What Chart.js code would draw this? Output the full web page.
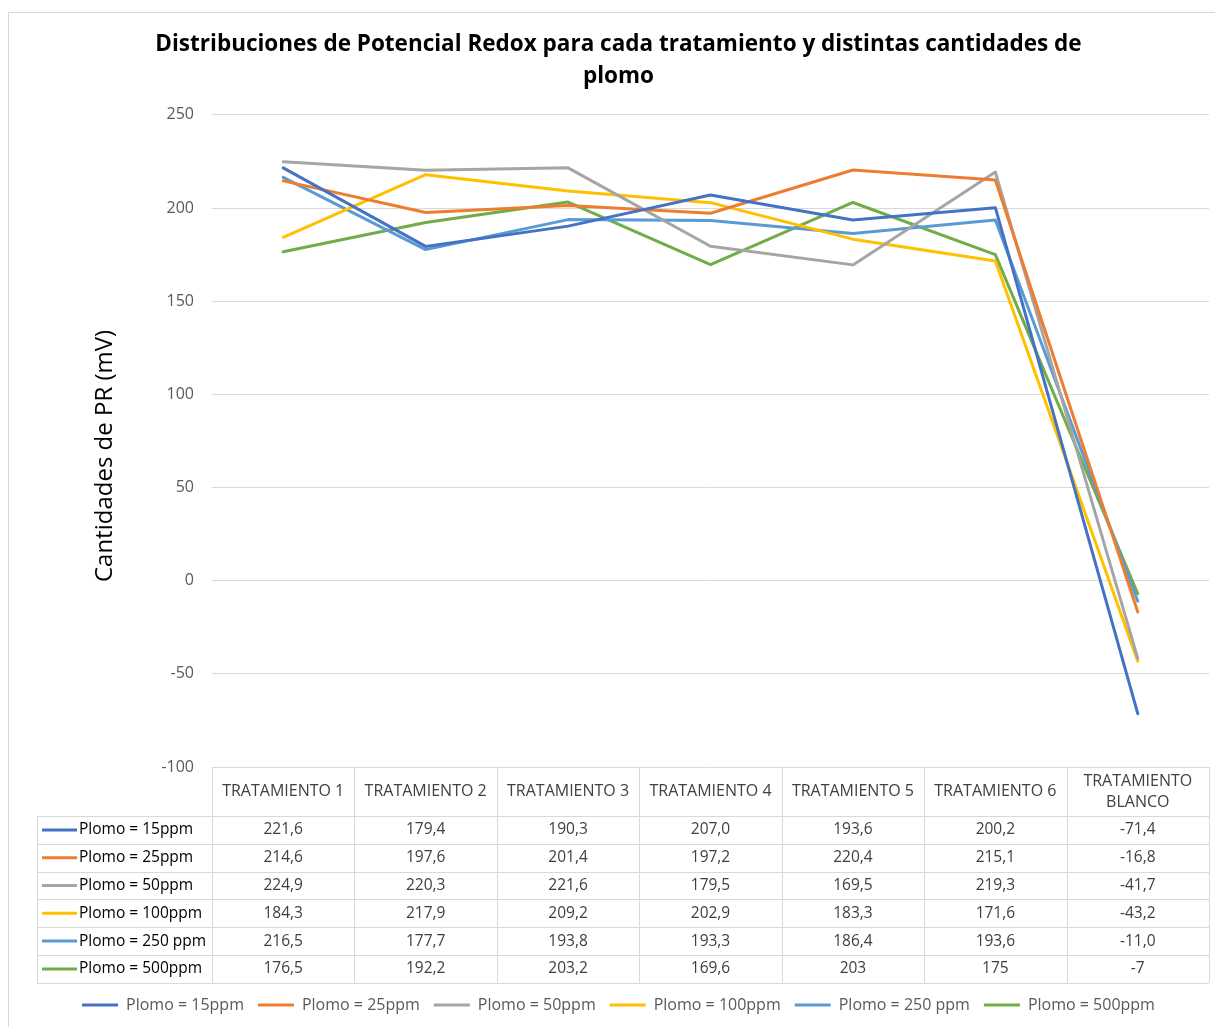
<!DOCTYPE html>
<html>
<head>
<meta charset="utf-8">
<script src="https://cdn.jsdelivr.net/npm/chart.js@4.4.1/dist/chart.umd.min.js"></script>
<style>
  html, body { margin: 0; padding: 0; background: #fff; }
  #wrap { width: 1215px; height: 1027px; position: relative; }
</style>
</head>
<body>
<div id="wrap"><canvas id="redoxChart"></canvas></div>
<script>
// Categories (x axis / table header)
const tratamientos = ['TRATAMIENTO 1', 'TRATAMIENTO 2', 'TRATAMIENTO 3', 'TRATAMIENTO 4',
    'TRATAMIENTO 5', 'TRATAMIENTO 6', ['TRATAMIENTO', 'BLANCO']];

// Series (mV)
const plomo15 = [221.6, 179.4, 190.3, 207.0, 193.6, 200.2, -71.4];
const plomo25 = [214.6, 197.6, 201.4, 197.2, 220.4, 215.1, -16.8];
const plomo50 = [224.9, 220.3, 221.6, 179.5, 169.5, 219.3, -41.7];
const plomo100 = [184.3, 217.9, 209.2, 202.9, 183.3, 171.6, -43.2];
const plomo250 = [216.5, 177.7, 193.8, 193.3, 186.4, 193.6, -11.0];
const plomo500 = [176.5, 192.2, 203.2, 169.6, 203, 175, -7];

const seriesNames = ['Plomo = 15ppm', 'Plomo = 25ppm', 'Plomo = 50ppm', 'Plomo = 100ppm', 'Plomo = 250 ppm', 'Plomo = 500ppm'];
const seriesValues = [plomo15, plomo25, plomo50, plomo100, plomo250, plomo500];
// table shows one decimal for all rows except the last one
const oneDecimal = [true, true, true, true, true, false];
const colors = ['#4472C4', '#ED7D31', '#A5A5A5', '#FFC000', '#5B9BD5', '#70AD47'];

const yTicks = [-100, -50, 0, 50, 100, 150, 200, 250];
const yTitle = 'Cantidades de PR (mV)';

const FONT = "'Open Sans', 'Noto Sans', sans-serif";

function fmt(v, fixed) {
    const s = fixed ? v.toFixed(1) : String(v);
    return s.replace('.', ',');
}

// Draws the outer frame, the y title and the data table below the plot
const tablePlugin = {
    id: 'dataTable',
    beforeDraw(chart) {
        const ctx = chart.ctx;
        ctx.save();
        ctx.strokeStyle = '#d9d9d9';
        ctx.lineWidth = 1;
        ctx.strokeRect(8.5, 12.5, 1300, 1100);
        ctx.restore();
    },
    afterDraw(chart) {
        const ctx = chart.ctx;
        const xScale = chart.scales.x;
        const area = chart.chartArea;
        const n = tratamientos.length;
        const colW = (area.right - area.left) / n;
        const headerTop = area.bottom;
        const headerH = 49;
        const rowH = 27.8;
        const rowsTop = headerTop + headerH;
        const labelLeft = 37;

        ctx.save();

        // y axis title (Excel centres it a bit lower than the plot)
        ctx.save();
        ctx.translate(105, (area.top + area.bottom) / 2 + 15);
        ctx.rotate(-Math.PI / 2);
        ctx.fillStyle = '#000';
        ctx.font = '24px ' + FONT;
        ctx.textAlign = 'center';
        ctx.textBaseline = 'middle';
        ctx.fillText(yTitle, 0, 0);
        ctx.restore();

        ctx.strokeStyle = '#d9d9d9';
        ctx.lineWidth = 1;

        // vertical lines
        for (let i = 0; i <= n; i++) {
            const x = Math.round(area.left + i * colW) + 0.5;
            ctx.beginPath();
            ctx.moveTo(x, headerTop);
            ctx.lineTo(x, rowsTop + rowH * seriesNames.length);
            ctx.stroke();
        }
        // left border of row labels
        ctx.beginPath();
        ctx.moveTo(labelLeft + 0.5, rowsTop);
        ctx.lineTo(labelLeft + 0.5, rowsTop + rowH * seriesNames.length);
        ctx.stroke();
        // horizontal lines
        for (let r = 0; r <= seriesNames.length; r++) {
            const y = Math.round(rowsTop + r * rowH) + 0.5;
            ctx.beginPath();
            ctx.moveTo(labelLeft, y);
            ctx.lineTo(area.right, y);
            ctx.stroke();
        }

        // header text
        ctx.fillStyle = '#404040';
        ctx.textAlign = 'center';
        ctx.textBaseline = 'middle';
        ctx.font = '16px ' + FONT;
        tratamientos.forEach((lab, i) => {
            const x = xScale.getPixelForValue(i);
            const lines = Array.isArray(lab) ? lab : [lab];
            const mid = headerTop + headerH / 2;
            lines.forEach((ln, k) => {
                ctx.fillText(ln, x, mid + (k - (lines.length - 1) / 2) * 21);
            });
        });

        // rows
        ctx.font = '15.5px ' + FONT;
        seriesNames.forEach((name, r) => {
            const yMid = rowsTop + r * rowH + rowH / 2;
            ctx.strokeStyle = colors[r];
            ctx.lineWidth = 3;
            ctx.beginPath();
            ctx.moveTo(labelLeft + 5, yMid);
            ctx.lineTo(labelLeft + 40, yMid);
            ctx.stroke();
            ctx.fillStyle = '#000';
            ctx.textAlign = 'left';
            ctx.fillText(name, labelLeft + 42, yMid);
            ctx.textAlign = 'center';
            ctx.fillStyle = '#404040';
            seriesValues[r].forEach((v, i) => {
                ctx.fillText(fmt(v, oneDecimal[r]), xScale.getPixelForValue(i), yMid);
            });
        });
        ctx.restore();
    }
};

const ctx = document.getElementById('redoxChart').getContext('2d');
new Chart(ctx, {
    type: 'line',
    data: {
        labels: tratamientos,
        datasets: seriesNames.map((name, i) => ({
            label: name,
            data: seriesValues[i],
            borderColor: colors[i],
            backgroundColor: colors[i],
            borderWidth: 3,
            pointRadius: 0,
            borderCapStyle: 'round',
            borderJoinStyle: 'round',
            tension: 0,
            fill: false
        }))
    },
    options: {
        responsive: true,
        maintainAspectRatio: false,
        animation: false,
        layout: { padding: { left: 28, right: 6, top: 0, bottom: 4 } },
        plugins: {
            title: {
                display: true,
                text: ['Distribuciones de Potencial Redox para cada tratamiento y distintas cantidades de', 'plomo'],
                color: '#000',
                font: { family: FONT, size: 22.5, weight: 'bold', lineHeight: 1.42 },
                padding: { top: 29, bottom: 22 }
            },
            legend: {
                position: 'bottom',
                labels: {
                    color: '#595959',
                    font: { family: FONT, size: 16 },
                    boxWidth: 36,
                    boxHeight: 3,
                    padding: 14,
                    generateLabels(chart) {
                        const items = Chart.defaults.plugins.legend.labels.generateLabels(chart);
                        items.forEach(it => { it.lineWidth = 0; });
                        return items;
                    }
                }
            },
            tooltip: { enabled: false }
        },
        scales: {
            x: {
                offset: true,
                grid: { display: false },
                border: { display: false },
                ticks: { display: false },
                afterFit(scale) { scale.height = 216; }
            },
            y: {
                min: -100,
                max: 250,
                afterBuildTicks(scale) { scale.ticks = yTicks.map(v => ({ value: v })); },
                afterFit(scale) { scale.width = 184; },
                grid: { color: '#d9d9d9', drawTicks: false },
                border: { display: false },
                ticks: { color: '#595959', font: { family: FONT, size: 16 }, padding: 18 }
            }
        }
    },
    plugins: [tablePlugin]
});
</script>
</body>
</html>
